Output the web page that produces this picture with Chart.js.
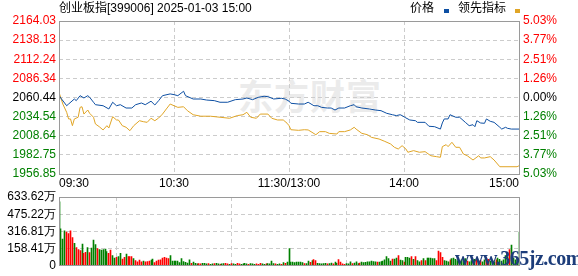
<!DOCTYPE html>
<html><head><meta charset="utf-8">
<script src="https://cdn.jsdelivr.net/npm/chart.js@4.4.1/dist/chart.umd.min.js"></script>
<style>
html,body{margin:0;padding:0;background:#fff;}
#wrap{position:relative;width:578px;height:276px;overflow:hidden;background:#fff;}
#wm{position:absolute;left:238px;top:71px;font:bold 35px "Noto Sans CJK SC";color:#ebebeb;letter-spacing:1px;white-space:nowrap;line-height:48px;}
canvas{position:absolute;left:0;}
#main{top:0;}
#vol{top:186px;}
.txt{position:absolute;top:1px;font:12px "Liberation Sans","Noto Sans CJK SC";color:#000;white-space:nowrap;line-height:14px;}
.sq{position:absolute;top:9px;width:5px;height:4px;}
#site{position:absolute;left:455px;top:247px;font:bold 20px "Liberation Serif";color:#1d3d7a;white-space:nowrap;letter-spacing:-0.5px;}
</style></head>
<body>
<div id="wrap">
  <div id="wm">东方财富</div>
  <canvas id="main" width="578" height="192"></canvas>
  <canvas id="vol" width="578" height="90"></canvas>
  <div class="txt" style="left:59px">创业板指[399006] 2025-01-03 15:00</div>
  <div class="txt" style="left:410px">价格</div>
  <div class="sq" style="left:444px;background:#0d4fa3"></div>
  <div class="txt" style="left:458px">领先指标</div>
  <div class="sq" style="left:515px;background:#e0a526"></div>
  <div id="site">www.365jz.com</div>
</div>
<script>
// ---- data ----
const timeLabels = ['09:30','10:30','11:30/13:00','14:00','15:00'];
const timeTickMinutes = [0,60,120,180,240];
const prevClose = 2060.44;
const priceTicks = [1956.85,1982.75,2008.64,2034.54,2060.44,2086.34,2112.24,2138.13,2164.03];
const pctLabels = ['5.03%','3.77%','2.51%','1.26%','0.00%','1.26%','2.51%','3.77%','5.03%'];
const volumeTicks = [0,158.41,316.81,475.22,633.62];
const volumeTickLabels = ['0','158.41万','316.81万','475.22万','633.62万'];

const priceMinutes = [0,4,5,8,9,11,13,15,16,18,19,23,26,28,30,32,35,38,40,43,45,48,50,52,54,58,60,62,65,66,70,74,77,81,84,88,92,96,98,101,104,107,109,112,116,118,120,121,125,128,130,133,135,137,140,142,144,146,149,152,154,155,158,162,165,168,171,174,176,178,179,181,183,186,187,191,193,196,199,200,201,203,204,207,209,212,214,216,217,218,220,222,223,225,227,230,231,233,234,236,240];
const priceValues = [2062.9,2049.3,2051.6,2058.4,2056.2,2062.9,2059.8,2062.9,2060.7,2054.0,2050.7,2049.3,2044.9,2054.0,2049.3,2050.7,2046.2,2046.2,2050.7,2053.0,2050.7,2055.4,2050.3,2056.2,2062.9,2065.3,2064.3,2062.9,2068.9,2062.9,2058.4,2058.4,2057.0,2056.2,2054.0,2054.0,2057.5,2058.4,2059.8,2057.5,2060.7,2062.1,2061.6,2058.4,2059.4,2058.4,2055.5,2052.6,2051.6,2051.6,2054.0,2049.3,2049.3,2047.1,2046.2,2046.2,2043.5,2046.2,2046.2,2049.3,2050.7,2047.9,2046.2,2044.9,2043.5,2042.6,2039.0,2037.1,2035.9,2037.1,2035.9,2032.8,2030.0,2029.0,2026.8,2026.8,2021.5,2020.9,2017.7,2026.0,2031.4,2031.4,2037.1,2033.7,2033.7,2026.8,2022.3,2023.6,2020.9,2029.0,2025.9,2025.5,2031.4,2028.2,2026.8,2020.1,2017.7,2020.1,2018.7,2017.7,2017.7];

const leadMinutes = [0,2,4,5,6,7,8,10,11,12,13,15,16,18,19,21,23,25,26,28,30,31,33,35,37,39,42,44,46,48,50,52,54,56,58,60,62,65,67,70,74,79,84,89,93,96,98,100,103,105,109,111,114,117,119,120,121,125,128,130,132,134,136,139,141,145,146,149,152,154,155,158,161,163,167,170,173,175,177,179,181,182,185,188,191,194,197,199,200,202,203,205,207,209,211,213,216,219,220,222,225,227,230,239,240];
const leadValues = [2067.5,2051.6,2040.4,2031.4,2031.4,2022.3,2031.4,2033.7,2047.1,2047.9,2038.0,2043.5,2039.0,2033.7,2024.6,2020.9,2016.5,2022.3,2019.1,2034.5,2030.0,2030.0,2022.3,2020.1,2015.5,2022.3,2029.0,2027.7,2026.8,2032.3,2029.0,2032.7,2038.0,2044.9,2051.6,2049.3,2047.1,2047.9,2042.6,2037.1,2035.1,2035.1,2033.7,2032.3,2035.9,2037.1,2040.4,2033.7,2032.3,2038.0,2038.0,2032.3,2030.0,2030.0,2025.6,2022.3,2016.8,2016.0,2016.8,2016.5,2013.3,2010.0,2014.2,2014.2,2011.9,2011.0,2014.2,2014.2,2016.5,2020.1,2017.7,2011.9,2010.0,2006.5,2004.2,2001.0,1997.5,1993.0,1990.7,1995.2,1990.7,1986.3,1988.5,1986.3,1987.1,1981.6,1980.3,1979.5,1993.9,1996.6,1993.9,1999.8,1993.0,1993.0,1983.9,1981.6,1975.8,1981.6,1978.6,1978.6,1980.3,1975.8,1966.7,1966.7,1968.0];

// volume per minute (万), index 0 = 09:30 ... 240 = 15:00
const volumeValues = [
590,340,245,322,311,297,322,259,207,167,150,
140,
201,115,124,167,121,164,236,196,158,150,144,
150,
153,130,115,144,95,72,78,86,115,63,78,107,86,86,86,66,49,37,52,37,43,37,
40,
43,52,63,29,43,52,55,72,78,72,66,95,43,43,43,43,29,66,
40,
32,26,55,23,35,23,17,20,17,23,23,
17,20,14,17,20,23,17,14,17,20,23,17,14,20,17,14,23,17,14,17,23,17,14,20,17,14,17,14,23,17,14,17,20,17,43,20,17,14,17,14,29,23,35,
158,
35,35,29,35,35,35,29,20,20,43,32,49,58,49,23,20,17,20,23,17,
20,
26,17,35,23,58,35,17,14,20,17,37,20,26,37,20,26,35,29,32,37,
37,
43,40,37,35,35,40,43,55,84,66,43,63,63,72,95,52,49,35,78,78,
72,
84,60,84,49,37,49,66,49,72,72,72,66,66,49,135,
121,78,49,
43,
37,55,66,72,
60,49,43,55,49,66,43,37,49,40,60,55,43,49,37,55,66,60,43,49,37,55,72,60,43,55,95,80,150,190,70,55,66,311];
// R = up minute (red), G = down minute (green)
const volumeDir =
'GGGGRRRRGRR' + 'R' + 'GRRGRGGGRGG' + 'G' +
'GGRRGGRGGRRGRRRGRRRRGR' + 'R' + 'RGGRRRRRRRRGGGGGGG' + 'G' +
'GGGRGGGRRGG' + 'GRGGRGGRGGRRGRGGRRGGGGRGGGRRRGGRGGGGRGGRGRG' + 'G' +
'GGGGGGGRGGRGRRGGGGGR' + 'G' + 'GRGGRRRRGGGRGGGRGGGG' + 'G' +
'GGGRGGGGGGGRGGRGGRGG' + 'G' + 'RGRGGRGRGGGGGRR' + 'RRG' + 'G' + 'GRGG' +
'GGRGGGRGGRGRGRGGRRGGGRGGGGGGRGGGGG';

// ---- styles ----
const RED = '#ff0000', GREEN = '#008000', GRID = '#cccccc', BOX = '#9a9a9a';
const FONT = {family:'Liberation Sans', size:12};
const AXIS_L = 59, AXIS_R = 59;

const boxPlugin = {
  id:'box',
  afterDatasetsDraw(chart){
    const {ctx, chartArea:a} = chart;
    ctx.save();
    ctx.strokeStyle = BOX; ctx.lineWidth = 1;
    ctx.strokeRect(Math.floor(a.left)+0.5, Math.floor(a.top)+0.5, Math.floor(a.right)-Math.floor(a.left), Math.floor(a.bottom)-Math.floor(a.top));
    ctx.restore();
  }
};
// snap 1px bars to whole pixels so they stay crisp
const snapBars = {
  id:'snapBars',
  beforeDatasetsDraw(chart){
    chart.getDatasetMeta(0).data.forEach(b => { b.x = Math.floor(b.x) + 0.5; });
  }
};
const edgeless = (n) => (c) => (c.index===0 || c.index===n-1) ? 'rgba(0,0,0,0)' : GRID;

const timeAxis = (showLabels, h) => ({
  type:'linear', min:0, max:240,
  afterBuildTicks: s => { s.ticks = timeTickMinutes.map(v=>({value:v})); },
  afterFit: s => { s.height = h; },
  ticks:{display:showLabels, callback:(v,i)=>timeLabels[i], align:'inner', maxRotation:0, autoSkip:false, padding:2, color:'#000', font:FONT},
  grid:{color:edgeless(timeTickMinutes.length), drawTicks:false, lineWidth:1},
  border:{display:false, dash:[4,3]}
});

const tickColor = (c) => {
  const v = c.tick.value;
  if (Math.abs(v - prevClose) < 0.01) return '#000';
  return v > prevClose ? RED : GREEN;
};

new Chart(document.getElementById('main'), {
  type:'line',
  data:{datasets:[
    {label:'价格', data:priceMinutes.map((m,i)=>({x:m,y:priceValues[i]})), borderColor:'#0d4fa3', borderWidth:1, pointRadius:0, tension:0, yAxisID:'y'},
    {label:'领先指标', data:leadMinutes.map((m,i)=>({x:m,y:leadValues[i]})), borderColor:'#e0a526', borderWidth:1, pointRadius:0, tension:0, yAxisID:'y'}
  ]},
  options:{
    responsive:false, animation:false, devicePixelRatio:1,
    layout:{padding:{top:21,left:0,right:0,bottom:0}},
    plugins:{legend:{display:false}, tooltip:{enabled:false}},
    scales:{
      x: timeAxis(true, 18),
      y:{type:'linear', position:'left', min:priceTicks[0], max:priceTicks[priceTicks.length-1],
        afterBuildTicks: s => { s.ticks = priceTicks.map(v=>({value:v})); },
        afterFit: s => { s.width = AXIS_L; },
        ticks:{callback:(v,i)=>priceTicks[i].toFixed(2), color:tickColor, padding:3, autoSkip:false, font:FONT},
        grid:{color:edgeless(priceTicks.length), drawTicks:false},
        border:{display:false, dash:[4,3]}},
      y2:{type:'linear', position:'right', min:priceTicks[0], max:priceTicks[priceTicks.length-1],
        afterBuildTicks: s => { s.ticks = priceTicks.map(v=>({value:v})); },
        afterFit: s => { s.width = AXIS_R; },
        ticks:{callback:(v,i)=>pctLabels[i], color:tickColor, padding:4, autoSkip:false, font:FONT},
        grid:{display:false, drawTicks:false},
        border:{display:false}}
    }
  },
  plugins:[boxPlugin]
});

new Chart(document.getElementById('vol'), {
  type:'bar',
  data:{datasets:[{label:'成交量',
    data:volumeValues.map((v,i)=>({x:i,y:v})),
    backgroundColor:volumeValues.map((v,i)=>volumeDir[i]==='R'?RED:GREEN),
    borderWidth:0, barThickness:1}]},
  options:{
    responsive:false, animation:false, devicePixelRatio:1,
    layout:{padding:{top:11,left:0,right:AXIS_R,bottom:0}},
    plugins:{legend:{display:false}, tooltip:{enabled:false}},
    scales:{
      x: Object.assign(timeAxis(false, 6), {offset:false}),
      y:{type:'linear', position:'left', min:0, max:volumeTicks[volumeTicks.length-1],
        afterBuildTicks: s => { s.ticks = volumeTicks.map(v=>({value:v})); },
        afterFit: s => { s.width = AXIS_L; },
        ticks:{callback:(v,i)=>volumeTickLabels[i], color:'#000', padding:3, autoSkip:false, font:FONT},
        grid:{color:edgeless(volumeTicks.length), drawTicks:false},
        border:{display:false, dash:[4,3]}}
    }
  },
  plugins:[snapBars, boxPlugin]
});
</script>
</body></html>
